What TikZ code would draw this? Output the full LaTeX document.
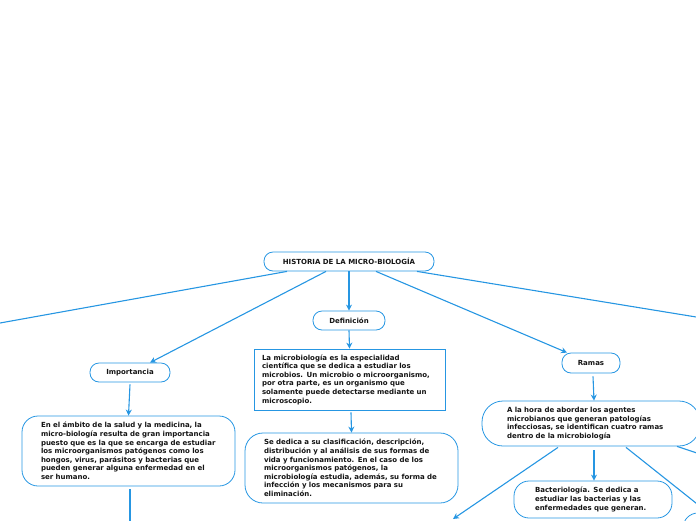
\documentclass[tikz,border=0pt]{standalone}
\usepackage{fontspec}
\setmainfont{DejaVu Sans}
\usetikzlibrary{arrows.meta,calc}
\definecolor{lineblue}{RGB}{38,150,226}
\definecolor{txt}{RGB}{20,20,20}
\begin{document}
\begin{tikzpicture}[x=1pt,y=-1pt,
  every node/.style={font=\bfseries\fontsize{7}{8.6}\selectfont, text=txt},
  smallbox/.style={draw=lineblue, line width=0.8pt, rounded corners=9pt, minimum height=19pt, inner sep=0pt},
  bigbox/.style={draw=lineblue, line width=0.8pt, align=left, inner ysep=0pt},
  conn/.style={draw=lineblue, line width=1.1pt},
  arr/.style={conn, -{Stealth[length=6pt,width=6pt]}}
]
\useasboundingbox (0,0) rectangle (696,520);
\clip (0,0) rectangle (696,520);

% nodes
\node[smallbox, minimum width=170pt] (title) at (349,261.5) {HISTORIA DE LA MICRO-BIOLOGÍA};
\node[smallbox, minimum width=72pt] (defn) at (349,320.5) {Definición};
\node[smallbox, minimum width=80pt] (imp) at (130,372.5) {Importancia};
\node[smallbox, minimum width=58pt, minimum height=20pt] (ramas) at (591,363) {Ramas};

\node[bigbox, minimum width=191pt, minimum height=61pt, text width=175pt] (deftext) at (349.5,379.5)
 {La microbiología es la especialidad\\científica que se dedica a estudiar los\\microbios. Un microbio o microorganismo,\\por otra parte, es un organismo que\\solamente puede detectarse mediante un\\microscopio.};

\node[bigbox, rounded corners=18pt, minimum width=213pt, minimum height=70pt, text width=175pt] (deftext2) at (351.5,468)
 {Se dedica a su clasificación, descripción,\\distribución y al análisis de sus formas de\\vida y funcionamiento. En el caso de los\\microorganismos patógenos, la\\microbiología estudia, además, su forma de\\infección y los mecanismos para su\\eliminación.};

\node[bigbox, rounded corners=16pt, minimum width=213pt, minimum height=70pt, text width=175pt] (imptext) at (128.5,451)
 {En el ámbito de la salud y la medicina, la\\micro-biología resulta de gran importancia\\puesto que es la que se encarga de estudiar\\los microorganismos patógenos como los\\hongos, virus, parásitos y bacterias que\\pueden generar alguna enfermedad en el\\ser humano.};

\node[bigbox, rounded corners=21pt, minimum width=218pt, minimum height=45pt, text width=168pt] (ramastext) at (591,423.5)
 {A la hora de abordar los agentes\\microbianos que generan patologías\\infecciosas, se identifican cuatro ramas\\dentro de la microbiología};

\node[bigbox, rounded corners=15pt, minimum width=158pt, minimum height=37pt, text width=116pt] (bact) at (593,499.5)
 {Bacteriología. Se dedica a\\estudiar las bacterias y las\\enfermedades que generan.};

\node[bigbox, rounded corners=15pt, minimum width=120pt, minimum height=50pt] (offnode) at (743,538) {};

% free ends
\coordinate (offL) at (-10,324.8);
\coordinate (offR) at (706,318.6);
\coordinate (offB) at (130,530);
\coordinate (offBL) at (453,519);
\coordinate (offBR) at (706,511);
\coordinate (offRR) at (706,456);

% connectors
\draw[conn] ($(title.south)+(-62,0)$) -- (offL);
\draw[conn] ($(title.south)+(68,0)$) -- (offR);
\draw[arr] ($(title.south)+(-23,0)$) -- ($(imp.north)+(20,0)$);
\draw[arr] (title.south) -- (defn.north);
\draw[arr] ($(title.south)+(27,0)$) -- ($(ramas.north)+(-24,0)$);
\draw[arr] (defn.south) -- (deftext.north);
\draw[arr] ($(deftext.south)+(1.5,2)$) -- (deftext2.north);
\draw[arr] ($(imp.south)+(0,2)$) -- (imptext.north);
\draw[conn] ($(imptext.south)+(1.5,3)$) -- (offB);
\draw[arr] ($(ramas.south)+(2,3)$) -- ($(ramastext.north)+(3,0)$);
\draw[arr] ($(ramastext.south)+(3,4)$) -- ($(bact.north)+(1,0)$);
\draw[arr] ($(ramastext.south)+(-33,1)$) -- (offBL);
\draw[conn] ($(ramastext.south)+(35,1)$) -- (offBR);
\draw[conn] ($(ramastext.south)+(86,0)$) -- (offRR);
\end{tikzpicture}
\end{document}
